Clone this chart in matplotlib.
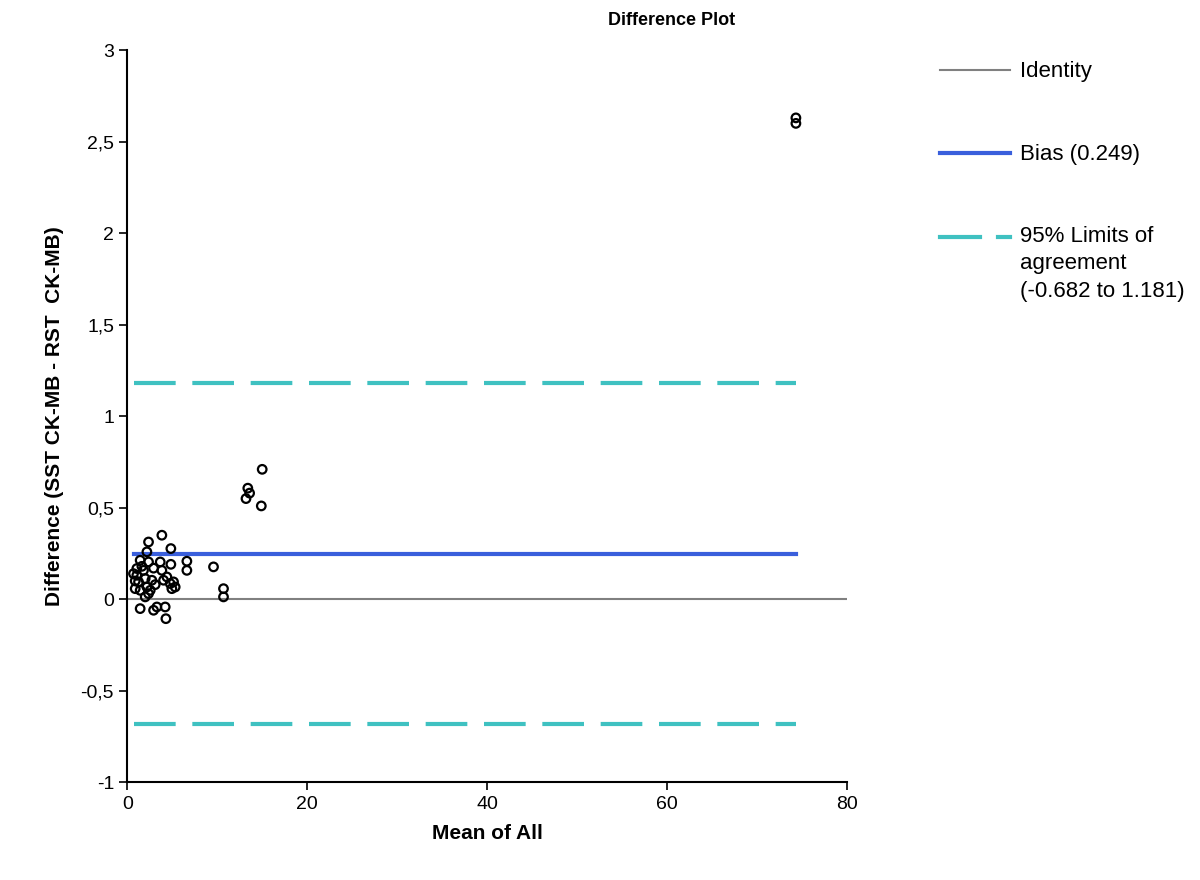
import numpy as np
import matplotlib.pyplot as plt
from matplotlib.lines import Line2D

plt.rcParams['font.family'] = ['Liberation Sans', 'DejaVu Sans']

# mean of all (x) and difference (y)
mean_all = [2.37, 3.85, 4.85, 2.19, 1.44, 2.37, 3.67, 4.85, 6.63, 6.63,
            9.59, 1.07, 1.07, 1.26, 0.89, 1.81, 2.00, 2.19, 2.37, 2.74,
            2.56, 3.85, 4.04, 4.41, 4.78, 5.15, 5.33, 4.96, 1.44, 2.00,
            10.7, 10.7, 1.44, 2.93, 3.30, 4.22, 4.30, 0.70, 1.63, 0.89,
            2.93, 3.11, 15.0, 13.4, 13.6, 13.2, 14.9, 74.3, 74.3]
diff = [0.313, 0.350, 0.277, 0.259, 0.213, 0.204, 0.204, 0.191, 0.208, 0.158,
        0.177, 0.168, 0.131, 0.095, 0.058, 0.158, 0.113, 0.067, 0.031, 0.104,
        0.049, 0.158, 0.104, 0.122, 0.086, 0.095, 0.067, 0.058, 0.049, 0.013,
        0.058, 0.013, -0.051, -0.060, -0.042, -0.042, -0.106, 0.140, 0.180, 0.100,
        0.170, 0.080, 0.710, 0.607, 0.580, 0.550, 0.510, 2.630, 2.600]

bias = 0.249
loa_low = -0.682
loa_high = 1.181

x_ticks = [0, 20, 40, 60, 80]
y_ticks = [-1, -0.5, 0, 0.5, 1, 1.5, 2, 2.5, 3]
y_tick_labels = ["-1", "-0,5", "0", "0,5", "1", "1,5", "2", "2,5", "3"]

fig = plt.figure(figsize=(12, 8.8), dpi=100)
ax = fig.add_axes([0.106, 0.111, 0.6, 0.832])

xmin, xmax = min(mean_all), max(mean_all)

ax.plot([0, 80], [0, 0], color="#808080", lw=1.5, zorder=1)
ax.plot([xmin, xmax], [bias, bias], color="#3a5fdc", lw=3, zorder=2)
ax.plot([xmin, xmax], [loa_high, loa_high], color="#3fc1c1", lw=3,
        dashes=(10, 4), zorder=2)
ax.plot([xmin, xmax], [loa_low, loa_low], color="#3fc1c1", lw=3,
        dashes=(10, 4), zorder=2)
ax.scatter(mean_all, diff, s=38, facecolors="none", edgecolors="black",
           linewidths=1.6, zorder=3)

ax.set_xlim(0, 80)
ax.set_ylim(-1, 3)
ax.set_xticks(x_ticks)
ax.set_yticks(y_ticks)
ax.set_yticklabels(y_tick_labels)
ax.tick_params(labelsize=14, length=6, width=1.2, direction="out")
for s in ["top", "right"]:
    ax.spines[s].set_visible(False)
for s in ["left", "bottom"]:
    ax.spines[s].set_linewidth(1.5)

ax.set_xlabel("Mean of All", fontsize=15, fontweight="bold", labelpad=8)
ax.set_ylabel("Difference (SST CK-MB - RST  CK-MB)", fontsize=15,
              fontweight="bold", labelpad=12)
fig.text(0.56, 0.977, "Difference Plot", fontsize=13, fontweight="bold",
         ha="center", va="center")

# legend drawn by hand to keep the Excel-like spacing
def fy(py):
    return 1 - py / 880

fig.add_artist(Line2D([940 / 1200, 1010 / 1200], [fy(70), fy(70)],
                      color="#808080", lw=1.5, transform=fig.transFigure))
fig.text(1020 / 1200, fy(71), "Identity", fontsize=16, va="center")
fig.add_artist(Line2D([940 / 1200, 1010 / 1200], [fy(153), fy(153)],
                      color="#3a5fdc", lw=3, transform=fig.transFigure))
fig.text(1020 / 1200, fy(154), "Bias (0.249)", fontsize=16, va="center")
fig.add_artist(Line2D([940 / 1200, 980 / 1200], [fy(237), fy(237)],
                      color="#3fc1c1", lw=3, transform=fig.transFigure))
fig.add_artist(Line2D([998 / 1200, 1010 / 1200], [fy(237), fy(237)],
                      color="#3fc1c1", lw=3, transform=fig.transFigure))
fig.text(1020 / 1200, fy(226), "95% Limits of\nagreement\n(-0.682 to 1.181)",
         fontsize=16, va="top", linespacing=1.4)

fig.savefig("out.png", dpi=100)
